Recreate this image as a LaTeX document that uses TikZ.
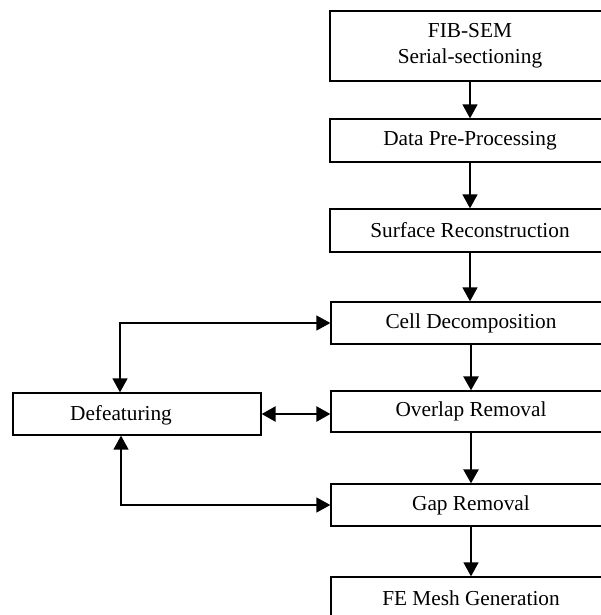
\documentclass[tikz,border=0pt]{standalone}
\usepackage{fontspec}
\setmainfont{Liberation Serif}
\usetikzlibrary{arrows.meta}
\begin{document}
\begin{tikzpicture}[x=1pt,y=-1pt,
  tip/.style={Triangle[width=15pt,length=14pt]},
  box/.style={draw,line width=1.3pt,rectangle,inner sep=0pt,minimum width=280pt,
    font=\fontsize{21.3}{26}\selectfont,align=center},
  conn/.style={line width=1.4pt,-{Triangle[width=15pt,length=14pt]}},
  heavy/.style={line width=2.5pt,-{Triangle[width=15pt,length=14pt]}},
  twoway/.style={line width=1.4pt,{Triangle[width=15pt,length=14pt]}-{Triangle[width=15pt,length=14pt]}},
  both/.style={line width=2.5pt,{Triangle[width=15pt,length=14pt]}-{Triangle[width=15pt,length=14pt]}}]
\useasboundingbox (0,0) rectangle (601,615);
% main pipeline (right column, cut off at the right edge)
\node[box,minimum height=70pt] (fib) at (470,46) {FIB-SEM\\Serial-sectioning};
\node[box,minimum height=43pt] (pre) at (470,140.5) {Data Pre-Processing};
\node[box,minimum height=43pt] (surf) at (470,230.5) {Surface Reconstruction};
\node[box,minimum height=42pt] (cell) at (471,323) {Cell Decomposition};
\node[box,minimum height=41pt] (over) at (471,411.5) {Overlap Removal};
\node[box,minimum height=42pt] (gap) at (471,505) {Gap Removal};
\node[box,minimum height=42pt] (mesh) at (471,598) {FE Mesh Generation};
% side box
\node[draw,line width=1.3pt,minimum width=248pt,minimum height=42pt,inner sep=0pt] (def) at (137,414) {};
\node[font=\fontsize{21.3}{26}\selectfont] (deftext) at (121,415) {Defeaturing};
\coordinate (dtop) at (120,323);
\coordinate (dbot) at (121,505);
% vertical flow
\draw[conn] (fib.south -| 470,0) -- (pre.north -| 470,0);
\draw[conn] (pre.south -| 470,0) -- (surf.north -| 470,0);
\draw[conn] (surf.south -| 470,0) -- (cell.north -| 470,0);
\draw[heavy] (cell.south -| 471,0) -- (over.north -| 471,0);
\draw[heavy] (over.south -| 471,0) -- (gap.north -| 471,0);
\draw[conn] (gap.south -| 471,0) -- (mesh.north -| 471,0);
% links to defeaturing
\draw[twoway] (def.north -| dtop) -- (dtop) -- (cell.west);
\draw[twoway] (def.south -| dbot) -- (dbot) -- (gap.west);
\draw[both] (def.east) -- (over.west |- def.east);
\end{tikzpicture}
\end{document}
